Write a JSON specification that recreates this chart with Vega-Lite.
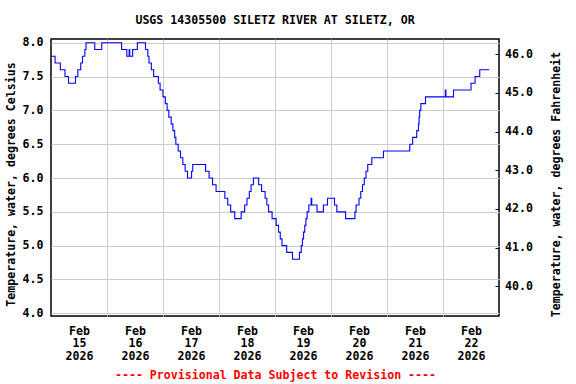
{
  "$schema": "https://vega.github.io/schema/vega-lite/v6.json",
  "autosize": {"type": "none"},
  "padding": {"left": 51, "top": 39, "right": 77, "bottom": 68},
  "width": 448,
  "height": 277,
  "background": "white",
  "title": {
    "text": "USGS 14305500 SILETZ RIVER AT SILETZ, OR",
    "font": "DejaVu Sans Mono",
    "fontSize": 11.6,
    "fontWeight": "bold",
    "color": "black",
    "anchor": "middle",
    "offset": 10
  },
  "config": {
    "view": {"stroke": "black", "strokeWidth": 1.5},
    "axis": {
      "labelFont": "DejaVu Sans Mono",
      "labelFontSize": 11.6,
      "labelFontWeight": "bold",
      "labelColor": "black",
      "titleFont": "DejaVu Sans Mono",
      "titleFontSize": 11.6,
      "titleFontWeight": "bold",
      "titleColor": "black",
      "domain": false,
      "gridColor": "#cccccc",
      "gridWidth": 1,
      "gridOpacity": 1
    }
  },
  "data": {
    "values": [
      {"t": "2026-02-15T00:00", "c": 7.8},
      {"t": "2026-02-15T01:45", "c": 7.7},
      {"t": "2026-02-15T04:00", "c": 7.6},
      {"t": "2026-02-15T06:00", "c": 7.5},
      {"t": "2026-02-15T07:30", "c": 7.4},
      {"t": "2026-02-15T10:30", "c": 7.5},
      {"t": "2026-02-15T11:30", "c": 7.6},
      {"t": "2026-02-15T12:45", "c": 7.7},
      {"t": "2026-02-15T13:30", "c": 7.8},
      {"t": "2026-02-15T14:30", "c": 7.9},
      {"t": "2026-02-15T15:00", "c": 8.0},
      {"t": "2026-02-15T18:45", "c": 7.9},
      {"t": "2026-02-15T21:45", "c": 8.0},
      {"t": "2026-02-16T06:15", "c": 7.9},
      {"t": "2026-02-16T08:30", "c": 7.8},
      {"t": "2026-02-16T09:30", "c": 7.9},
      {"t": "2026-02-16T09:45", "c": 7.8},
      {"t": "2026-02-16T11:00", "c": 7.9},
      {"t": "2026-02-16T13:00", "c": 8.0},
      {"t": "2026-02-16T16:30", "c": 7.9},
      {"t": "2026-02-16T17:30", "c": 7.8},
      {"t": "2026-02-16T18:00", "c": 7.7},
      {"t": "2026-02-16T19:00", "c": 7.6},
      {"t": "2026-02-16T20:00", "c": 7.5},
      {"t": "2026-02-16T22:00", "c": 7.4},
      {"t": "2026-02-16T22:45", "c": 7.3},
      {"t": "2026-02-17T00:00", "c": 7.2},
      {"t": "2026-02-17T01:00", "c": 7.1},
      {"t": "2026-02-17T01:45", "c": 7.0},
      {"t": "2026-02-17T02:30", "c": 6.9},
      {"t": "2026-02-17T03:30", "c": 6.8},
      {"t": "2026-02-17T04:15", "c": 6.7},
      {"t": "2026-02-17T05:00", "c": 6.6},
      {"t": "2026-02-17T05:30", "c": 6.5},
      {"t": "2026-02-17T06:30", "c": 6.4},
      {"t": "2026-02-17T07:30", "c": 6.3},
      {"t": "2026-02-17T08:30", "c": 6.2},
      {"t": "2026-02-17T09:30", "c": 6.1},
      {"t": "2026-02-17T10:30", "c": 6.0},
      {"t": "2026-02-17T12:15", "c": 6.1},
      {"t": "2026-02-17T12:45", "c": 6.2},
      {"t": "2026-02-17T18:15", "c": 6.1},
      {"t": "2026-02-17T19:45", "c": 6.0},
      {"t": "2026-02-17T21:15", "c": 5.9},
      {"t": "2026-02-17T22:45", "c": 5.8},
      {"t": "2026-02-18T02:30", "c": 5.7},
      {"t": "2026-02-18T03:45", "c": 5.6},
      {"t": "2026-02-18T05:00", "c": 5.5},
      {"t": "2026-02-18T06:45", "c": 5.4},
      {"t": "2026-02-18T09:30", "c": 5.5},
      {"t": "2026-02-18T11:00", "c": 5.6},
      {"t": "2026-02-18T12:00", "c": 5.7},
      {"t": "2026-02-18T13:00", "c": 5.8},
      {"t": "2026-02-18T13:45", "c": 5.9},
      {"t": "2026-02-18T14:45", "c": 6.0},
      {"t": "2026-02-18T17:00", "c": 5.9},
      {"t": "2026-02-18T18:15", "c": 5.8},
      {"t": "2026-02-18T19:45", "c": 5.7},
      {"t": "2026-02-18T20:30", "c": 5.6},
      {"t": "2026-02-18T21:15", "c": 5.5},
      {"t": "2026-02-18T22:45", "c": 5.4},
      {"t": "2026-02-19T00:30", "c": 5.3},
      {"t": "2026-02-19T01:30", "c": 5.2},
      {"t": "2026-02-19T02:15", "c": 5.1},
      {"t": "2026-02-19T03:00", "c": 5.0},
      {"t": "2026-02-19T05:00", "c": 4.9},
      {"t": "2026-02-19T07:30", "c": 4.8},
      {"t": "2026-02-19T10:30", "c": 4.9},
      {"t": "2026-02-19T11:15", "c": 5.0},
      {"t": "2026-02-19T11:45", "c": 5.1},
      {"t": "2026-02-19T12:15", "c": 5.2},
      {"t": "2026-02-19T12:45", "c": 5.3},
      {"t": "2026-02-19T13:15", "c": 5.4},
      {"t": "2026-02-19T13:45", "c": 5.5},
      {"t": "2026-02-19T14:30", "c": 5.6},
      {"t": "2026-02-19T15:30", "c": 5.7},
      {"t": "2026-02-19T15:45", "c": 5.6},
      {"t": "2026-02-19T18:00", "c": 5.5},
      {"t": "2026-02-19T20:45", "c": 5.6},
      {"t": "2026-02-19T22:30", "c": 5.7},
      {"t": "2026-02-20T01:30", "c": 5.6},
      {"t": "2026-02-20T02:30", "c": 5.5},
      {"t": "2026-02-20T06:15", "c": 5.4},
      {"t": "2026-02-20T10:15", "c": 5.5},
      {"t": "2026-02-20T10:45", "c": 5.6},
      {"t": "2026-02-20T12:00", "c": 5.7},
      {"t": "2026-02-20T12:45", "c": 5.8},
      {"t": "2026-02-20T13:30", "c": 5.9},
      {"t": "2026-02-20T14:15", "c": 6.0},
      {"t": "2026-02-20T15:00", "c": 6.1},
      {"t": "2026-02-20T15:45", "c": 6.2},
      {"t": "2026-02-20T17:30", "c": 6.3},
      {"t": "2026-02-20T22:30", "c": 6.4},
      {"t": "2026-02-21T09:45", "c": 6.5},
      {"t": "2026-02-21T11:00", "c": 6.6},
      {"t": "2026-02-21T12:45", "c": 6.7},
      {"t": "2026-02-21T13:30", "c": 6.8},
      {"t": "2026-02-21T13:45", "c": 6.9},
      {"t": "2026-02-21T14:00", "c": 7.0},
      {"t": "2026-02-21T14:30", "c": 7.1},
      {"t": "2026-02-21T16:30", "c": 7.2},
      {"t": "2026-02-22T01:00", "c": 7.3},
      {"t": "2026-02-22T01:15", "c": 7.2},
      {"t": "2026-02-22T04:30", "c": 7.3},
      {"t": "2026-02-22T12:00", "c": 7.4},
      {"t": "2026-02-22T13:45", "c": 7.5},
      {"t": "2026-02-22T15:45", "c": 7.6},
      {"t": "2026-02-22T19:45", "c": 7.6}
    ]
  },
  "layer": [
    {
      "mark": {"type": "line", "interpolate": "step-after", "color": "#0000ff", "strokeWidth": 1.1, "clip": true},
      "encoding": {
        "x": {
          "field": "t", "type": "temporal",
          "scale": {"domain": [{"year": 2026, "month": 2, "date": 15}, {"year": 2026, "month": 2, "date": 23}], "nice": false},
          "axis": {
            "orient": "bottom",
            "values": [
              {"year": 2026, "month": 2, "date": 16},
              {"year": 2026, "month": 2, "date": 17},
              {"year": 2026, "month": 2, "date": 18},
              {"year": 2026, "month": 2, "date": 19},
              {"year": 2026, "month": 2, "date": 20},
              {"year": 2026, "month": 2, "date": 21},
              {"year": 2026, "month": 2, "date": 22}
            ],
            "labels": false, "ticks": false, "grid": true, "title": null
          }
        },
        "y": {
          "field": "c", "type": "quantitative",
          "scale": {"domain": [3.96, 8.055], "nice": false, "zero": false},
          "axis": {
            "orient": "left",
            "values": [4, 4.5, 5, 5.5, 6, 6.5, 7, 7.5, 8],
            "format": ".1f",
            "ticks": false,
            "labelPadding": 8,
            "grid": true,
            "title": "Temperature, water, degrees Celsius",
            "titleAngle": -90,
            "titleX": -39.5,
            "titleY": 145,
            "titleBaseline": "middle",
            "titleAlign": "center"
          }
        }
      }
    },
    {
      "mark": {"type": "line", "opacity": 0, "clip": true},
      "encoding": {
        "x": {
          "field": "t", "type": "temporal",
          "axis": {
            "orient": "bottom",
            "values": [
              {"year": 2026, "month": 2, "date": 15, "hours": 12},
              {"year": 2026, "month": 2, "date": 16, "hours": 12},
              {"year": 2026, "month": 2, "date": 17, "hours": 12},
              {"year": 2026, "month": 2, "date": 18, "hours": 12},
              {"year": 2026, "month": 2, "date": 19, "hours": 12},
              {"year": 2026, "month": 2, "date": 20, "hours": 12},
              {"year": 2026, "month": 2, "date": 21, "hours": 12},
              {"year": 2026, "month": 2, "date": 22, "hours": 12}
            ],
            "labelExpr": "[timeFormat(datum.value, '%b'), timeFormat(datum.value, '%d'), timeFormat(datum.value, '%Y')]",
            "labelBaseline": "top",
            "labelLineHeight": 12.5,
            "labelPadding": 9,
            "ticks": false,
            "grid": false,
            "title": "---- Provisional Data Subject to Revision ----",
            "titleColor": "#ff0000",
            "titleY": 59,
            "titleBaseline": "middle"
          }
        },
        "y": {
          "field": "c", "type": "quantitative",
          "scale": {"domain": [39.235, 46.39], "nice": false, "zero": false},
          "axis": {
            "orient": "right",
            "values": [40, 41, 42, 43, 44, 45, 46],
            "format": ".1f",
            "grid": false,
            "ticks": true,
            "tickSize": -4,
            "tickColor": "black",
            "labelPadding": 9.5,
            "title": "Temperature, water, degrees Fahrenheit",
            "titleAngle": -90,
            "titleX": 57.3,
            "titleY": 145,
            "titleBaseline": "middle",
            "titleAlign": "center"
          }
        }
      }
    }
  ],
  "resolve": {"scale": {"y": "independent"}, "axis": {"x": "independent"}}
}
